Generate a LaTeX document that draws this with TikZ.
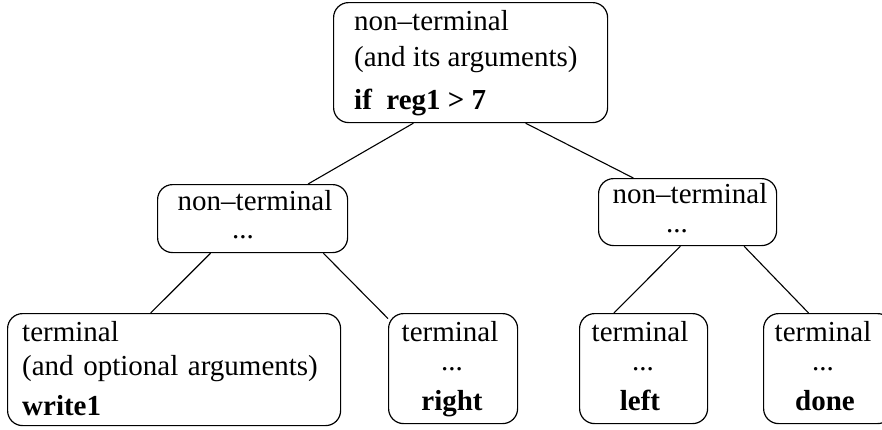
\documentclass[tikz,border=0pt]{standalone}
\usepackage{fontspec}
\setmainfont{Liberation Serif}
\usetikzlibrary{calc}
\begin{document}
\begin{tikzpicture}[x=1pt,y=-1pt,
  box/.style={draw, line width=1.2pt, rounded corners=15pt, anchor=north west,
    inner sep=0pt, minimum width=#1},
  txt/.style={inner sep=0pt, font=\fontsize{29}{34}\selectfont},
  dots/.style={txt, text height=4pt, text depth=0pt},
  link/.style={line width=1.1pt}]
\useasboundingbox (0,0) rectangle (882,429);
\clip (0,0) rectangle (882,429);

% boxes of the tree
\node[box=274pt, minimum height=120pt] (root)  at (333,2)   {};
\node[box=190pt, minimum height=68pt]  (midL)  at (157,184) {};
\node[box=178pt, minimum height=67pt]  (midR)  at (598,178) {};
\node[box=333pt, minimum height=112pt] (term1) at (7,313)   {};
\node[box=129pt, minimum height=110pt] (right) at (388,313) {};
\node[box=128pt, minimum height=110pt] (left)  at (579,313) {};
\node[box=129pt, minimum height=110pt] (done)  at (763,313) {};

% root text
\node[txt, anchor=base west] (r1) at (354,30)  {non–terminal};
\node[txt, anchor=base west] (r2) at (354,66)  {(and its arguments)};
\node[txt, anchor=base west] (r3) at (354,109) {\textbf{if\ \ reg1 > 7}};

% inner non-terminals
\node[txt, anchor=base, text depth=0pt] (ml1) at (255,210) {non–terminal};
\node[dots, anchor=base] (ml2) at (243,238) {...};
\node[txt, anchor=base, text depth=0pt] (mr1) at (690,203) {non–terminal};
\node[dots, anchor=base] (mr2) at (677,232) {...};

% terminals
\node[txt, anchor=base west] (t1a) at (22,341) {terminal};
\node[txt, anchor=base west] (t1b) at (22,375)
  {(and\hspace{0.33em}optional\hspace{0.33em}arguments)};
\node[txt, anchor=base west] (t1c) at (22,415) {\textbf{write1}};

\node[txt, anchor=base, text depth=0pt] (ta) at (450,341) {terminal};
\node[dots, anchor=base] (tb) at (452,370) {...};
\node[txt, anchor=base] (tc) at (452,410) {\textbf{right}};

\node[txt, anchor=base, text depth=0pt] (la) at (640,341) {terminal};
\node[dots, anchor=base] (lb) at (643,370) {...};
\node[txt, anchor=base] (lc) at (640,410) {\textbf{left}};

\node[txt, anchor=base, text depth=0pt] (da) at (823,341) {terminal};
\node[dots, anchor=base] (db) at (823,370) {...};
\node[txt, anchor=base] (dc) at (825,410) {\textbf{done}};

% connectors
\draw[link] ($(root.south west)!0.292!(root.south east)$) -- ($(midL.north west)!0.79!(midL.north east)$);
\draw[link] ($(root.south west)!0.70!(root.south east)$)  -- ($(midR.north west)!0.197!(midR.north east)$);
\draw[link] ($(midL.south west)!0.28!(midL.south east)$)  -- ($(term1.north west)!0.43!(term1.north east)$);
\draw[link] ($(midL.south west)!0.87!(midL.south east)$)  -- ($(right.north west)!0.05!(right.south west)$);
\draw[link] ($(midR.south west)!0.46!(midR.south east)$)  -- ($(left.north west)!0.27!(left.north east)$);
\draw[link] ($(midR.south west)!0.815!(midR.south east)$) -- ($(done.north west)!0.35!(done.north east)$);
\end{tikzpicture}
\end{document}
